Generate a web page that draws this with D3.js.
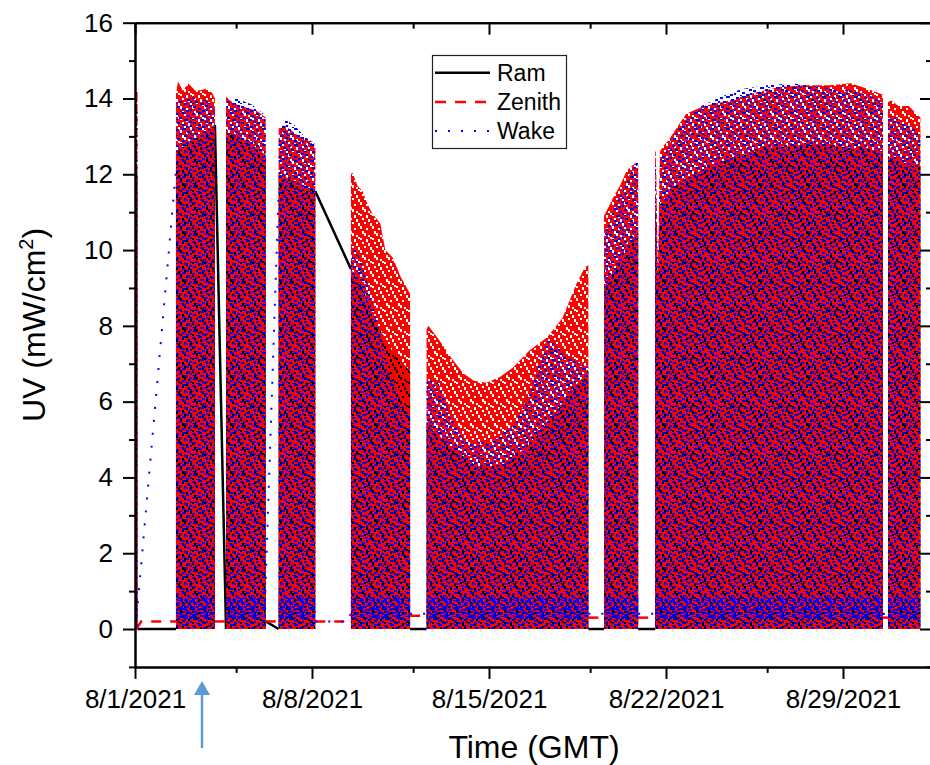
<!DOCTYPE html>
<html>
<head>
<meta charset="utf-8">
<script src="https://cdn.jsdelivr.net/npm/d3@7"></script>
<style>
  body { margin: 0; background: #fff; }
  svg { display: block; font-family: Arial, "Liberation Sans", sans-serif; }
</style>
</head>
<body>
<svg id="chart" width="930" height="765"></svg>
<script>
// days since 8/1/2021 00:00 GMT, values in mW/cm2 (upper envelope of each data block)
const ramTop = [
    [[0.00, 12.0], [0.10, 12.0]],
    [[1.62, 12.6], [2.50, 13.0], [3.16, 13.3]],
    [[3.60, 13.1], [4.40, 12.9], [5.17, 12.5]],
    [[5.68, 12.0], [6.40, 11.8], [7.13, 11.55]],
    [[8.54, 9.5], [9.00, 9.0], [9.60, 8.0], [10.20, 7.3], [10.88, 6.8]],
    [[11.53, 5.4], [12.50, 4.8], [13.50, 4.3], [14.50, 4.3], [15.50, 4.8], [16.50, 5.6], [17.40, 6.4], [17.93, 6.8]],
    [[18.55, 9.0], [19.90, 10.5]],
    [[20.57, 11.0], [20.60, 11.0], [20.68, 9.0], [20.76, 11.2], [21.50, 11.8], [23.00, 12.3], [25.00, 12.7], [27.00, 12.8], [29.58, 12.6]],
    [[29.78, 12.4], [31.06, 12.2]]
];

const zenithTop = [
    [[0.00, 14.2], [0.10, 14.2]],
    [[1.62, 14.1], [1.70, 14.45], [1.90, 14.2], [2.10, 14.4], [2.40, 14.2], [2.80, 14.25], [3.05, 14.15], [3.16, 14.0]],
    [[3.60, 14.05], [3.75, 13.95], [4.00, 13.85], [4.45, 13.75], [4.80, 13.68], [5.17, 13.5]],
    [[5.68, 13.2], [5.90, 13.3], [6.50, 13.0], [7.05, 12.85], [7.13, 12.7]],
    [[8.54, 12.0], [8.60, 12.05], [8.80, 11.7], [9.00, 11.55], [9.20, 11.2], [9.40, 10.95], [9.70, 10.7], [9.90, 10.0], [10.20, 9.8], [10.50, 9.3], [10.88, 8.85]],
    [[11.53, 7.9], [11.60, 8.0], [12.06, 7.6], [12.46, 7.2], [12.98, 6.75], [13.40, 6.55], [13.90, 6.5], [14.43, 6.65], [14.95, 6.9], [15.60, 7.35], [16.30, 7.7], [16.90, 8.2], [17.45, 9.1], [17.80, 9.55], [17.93, 9.6]],
    [[18.55, 10.9], [18.70, 11.1], [18.92, 11.4], [19.18, 11.7], [19.45, 12.1], [19.78, 12.3], [19.90, 12.2]],
    [[20.57, 12.6], [20.60, 12.6], [20.68, 9.3], [20.76, 12.6], [20.90, 12.75], [21.10, 12.9], [21.50, 13.3], [21.80, 13.6], [22.50, 13.8], [23.50, 13.95], [24.50, 14.15], [25.50, 14.3], [26.50, 14.35], [27.50, 14.35], [28.30, 14.4], [29.00, 14.25], [29.58, 14.1]],
    [[29.78, 13.9], [29.90, 13.95], [30.20, 13.8], [30.60, 13.8], [31.06, 13.5]]
];

const wakeTop = [
    [[0.00, 13.8], [0.10, 13.8]],
    [[1.62, 13.9], [2.00, 14.05], [2.60, 14.0], [3.00, 13.9], [3.16, 13.7]],
    [[3.60, 13.95], [4.00, 14.0], [4.60, 13.85], [5.17, 13.55]],
    [[5.68, 13.0], [5.90, 13.45], [6.30, 13.3], [6.70, 13.0], [7.13, 12.8]],
    [[8.54, 9.8], [8.70, 10.1], [9.00, 9.6], [9.40, 8.6], [9.80, 7.5], [10.20, 6.6], [10.50, 6.0], [10.88, 5.6]],
    [[11.53, 6.6], [12.00, 6.5], [12.50, 5.6], [13.00, 5.0], [14.00, 4.9], [15.00, 5.4], [15.60, 6.2], [16.30, 7.7], [16.80, 7.4], [17.30, 7.1], [17.93, 6.9]],
    [[18.55, 10.4], [19.00, 11.2], [19.50, 11.9], [19.90, 12.4]],
    [[20.57, 12.3], [20.60, 12.3], [20.68, 9.3], [20.76, 12.4], [21.00, 12.6], [21.30, 13.0], [21.70, 13.4], [22.40, 13.8], [23.20, 14.05], [24.00, 14.25], [25.00, 14.35], [26.00, 14.4], [27.00, 14.3], [28.00, 14.25], [29.00, 14.1], [29.58, 13.9]],
    [[29.78, 13.6], [30.30, 13.4], [31.06, 13.1]]
];

// eclipse level of the wake sensor (dense band at the bottom of each block)
const wakeBand = [0.25, 0.85];

// lines joining the last point of one block to the first point of the next
const ramGaps = [
    [[0.10, 0], [1.62, 0]],
    [[3.16, 13.3], [3.60, 0]],
    [[5.17, 0.2], [5.68, 0]],
    [[7.13, 11.55], [8.54, 9.5]],
    [[10.88, 0], [11.53, 0]],
    [[17.93, 0], [18.55, 0]],
    [[19.90, 0], [20.57, 0]]
];
const zenithGaps = [
    [[0.05, 0], [0.25, 0.2], [1.62, 0.2]],
    [[3.16, 0.2], [3.60, 0.2]],
    [[5.17, 0.2], [5.68, 0.2]],
    [[7.13, 0.2], [8.40, 0.2], [8.54, 0.4]],
    [[10.88, 0.35], [11.53, 0.35]],
    [[17.93, 0.3], [18.55, 0.3]],
    [[19.90, 0.3], [20.57, 0.3]],
    [[29.58, 0.3], [29.78, 0.3]]
];
const wakeGaps = [
    [[0.02, 0], [1.62, 12.1]],
    [[5.12, 0.3], [5.68, 11.5]],
    [[7.13, 0.2], [8.54, 0.2]],
    [[10.88, 0.4], [11.53, 0.4]],
    [[17.93, 0.4], [18.55, 0.4]],
    [[19.90, 0.4], [20.57, 0.4]],
    [[29.58, 0.4], [29.78, 0.4]]
];

const xMajorTicks = ['2021-08-01', '2021-08-08', '2021-08-15', '2021-08-22', '2021-08-29'];
const xMinorTicks = ['2021-08-05', '2021-08-12', '2021-08-19', '2021-08-26'];
const yMajorTicks = [0, 2, 4, 6, 8, 10, 12, 14, 16];
const yMinorTicks = [-1, 1, 3, 5, 7, 9, 11, 13, 15];
const seriesNames = ['Ram', 'Zenith', 'Wake'];

const startMs = Date.UTC(2021, 7, 1);
const toDate = d => new Date(startMs + d * 864e5);

const svg = d3.select('#chart');

const x = d3.scaleUtc()
    .domain([toDate(0), toDate(31.52)])
    .range([135, 932]);

const y = d3.scaleLinear()
    .domain([-1, 16])
    .range([666.9, 22.7]);

// textures standing in for the densely packed orbit traces
const defs = svg.append('defs');

function addPattern(id, w, h, color, rects) {
    let p = defs.append('pattern')
        .attr('id', id)
        .attr('patternUnits', 'userSpaceOnUse')
        .attr('width', w)
        .attr('height', h);
    rects.forEach(([rx, ry, rw, rh]) => {
        // draw twice so dashes wrap over the tile edge
        [ry, ry - h].forEach(yy => {
            p.append('rect').attr('x', rx).attr('y', yy)
                .attr('width', rw).attr('height', rh).attr('fill', color);
        });
    });
}

// red: short vertical dashes, ragged offsets
addPattern('zenithFill', 12, 24, '#ff0000', [
    [0, 0, 2, 10], [0, 13, 2, 9],
    [2, 4, 2, 11], [2, 18, 2, 8],
    [4, 8, 2, 9], [4, 20, 2, 10],
    [6, 2, 2, 10], [6, 14, 2, 9],
    [8, 6, 2, 13], [8, 21, 2, 6],
    [10, 10, 2, 11], [10, 23, 2, 8]
]);

// blue: short horizontal dots scattered
addPattern('wakeFill', 16, 16, '#0000ff', [
    [0, 1, 3, 2], [6, 0, 4, 2], [11, 3, 3, 2], [3, 5, 3, 2], [8, 7, 4, 2],
    [13, 9, 3, 2], [1, 10, 3, 2], [6, 12, 3, 2], [10, 14, 3, 2], [14, 13, 2, 2],
    [4, 15, 2, 1], [14, 5, 2, 2], [0, 7, 2, 1]
]);

// blue, denser: eclipse plateau
addPattern('wakeBandFill', 12, 8, '#0000ff', [
    [0, 0, 3, 2], [5, 1, 3, 2], [9, 0, 3, 1], [2, 3, 3, 2], [8, 4, 3, 2],
    [0, 6, 3, 2], [5, 6, 2, 1]
]);

const area = d3.area()
    .x(d => x(toDate(d[0])))
    .y0(y(0))
    .y1(d => y(d[1]));

const line = d3.line()
    .x(d => x(toDate(d[0])))
    .y(d => y(d[1]));

const data = svg.append('g').attr('class', 'data');

// Ram
data.append('g').selectAll('path')
    .data(ramTop)
    .enter()
    .append('path')
    .attr('d', area)
    .attr('fill', '#000');

data.append('g').selectAll('path')
    .data(ramGaps)
    .enter()
    .append('path')
    .attr('d', line)
    .attr('fill', 'none')
    .attr('stroke', '#000')
    .attr('stroke-width', 2.5);

// Zenith
data.append('g').selectAll('path')
    .data(zenithTop)
    .enter()
    .append('path')
    .attr('d', area)
    .attr('fill', 'url(#zenithFill)');

data.append('g').selectAll('path')
    .data(zenithGaps)
    .enter()
    .append('path')
    .attr('d', line)
    .attr('fill', 'none')
    .attr('stroke', '#ff0000')
    .attr('stroke-width', 2.5)
    .attr('stroke-dasharray', '10,9');

// Wake
data.append('g').selectAll('path')
    .data(wakeTop)
    .enter()
    .append('path')
    .attr('d', area)
    .attr('fill', 'url(#wakeFill)');

data.append('g').selectAll('rect')
    .data(wakeTop)
    .enter()
    .append('rect')
    .attr('x', d => x(toDate(d[0][0])))
    .attr('width', d => x(toDate(d[d.length - 1][0])) - x(toDate(d[0][0])))
    .attr('y', y(wakeBand[1]))
    .attr('height', y(wakeBand[0]) - y(wakeBand[1]))
    .attr('fill', 'url(#wakeBandFill)');

data.append('g').selectAll('path')
    .data(wakeGaps)
    .enter()
    .append('path')
    .attr('d', line)
    .attr('fill', 'none')
    .attr('stroke', '#0000ff')
    .attr('stroke-width', 2)
    .attr('stroke-dasharray', '2,11');

// axes
const fmt = d3.utcFormat('%-m/%-d/%Y');
const majorDates = xMajorTicks.map(s => new Date(s + 'T00:00:00Z'));
const minorDates = xMinorTicks.map(s => new Date(s + 'T00:00:00Z'));

function styleAxis(g) {
    g.selectAll('.domain').attr('stroke', '#000').attr('stroke-width', 2);
    g.selectAll('.tick line').attr('stroke', '#000').attr('stroke-width', 2);
    g.selectAll('.tick text').attr('fill', '#000').style('font-size', '26px')
        .style('font-family', 'Arial, "Liberation Sans", sans-serif');
}

let axes = svg.append('g').attr('class', 'axes');

axes.append('g')
    .attr('transform', `translate(0,${y(-1)})`)
    .call(d3.axisBottom(x).tickValues(majorDates).tickFormat(fmt).tickSize(12).tickSizeOuter(0).tickPadding(11))
    .call(styleAxis);
axes.append('g')
    .attr('transform', `translate(0,${y(-1)})`)
    .call(d3.axisBottom(x).tickValues(minorDates).tickFormat('').tickSize(6).tickSizeOuter(0))
    .call(styleAxis);

axes.append('g')
    .attr('transform', `translate(0,${y(16)})`)
    .call(d3.axisTop(x).tickValues(majorDates).tickFormat('').tickSize(-12).tickSizeOuter(0))
    .call(styleAxis);
axes.append('g')
    .attr('transform', `translate(0,${y(16)})`)
    .call(d3.axisTop(x).tickValues(minorDates).tickFormat('').tickSize(-6).tickSizeOuter(0))
    .call(styleAxis);

axes.append('g')
    .attr('transform', `translate(${x.range()[0]},0)`)
    .call(d3.axisLeft(y).tickValues(yMajorTicks).tickSize(12).tickSizeOuter(0).tickPadding(10))
    .call(styleAxis);
axes.append('g')
    .attr('transform', `translate(${x.range()[0]},0)`)
    .call(d3.axisLeft(y).tickValues(yMinorTicks).tickFormat('').tickSize(6).tickSizeOuter(0))
    .call(styleAxis);

axes.append('g')
    .attr('transform', `translate(${x.range()[1]},0)`)
    .call(d3.axisRight(y).tickValues(yMajorTicks).tickFormat('').tickSize(-12).tickSizeOuter(0))
    .call(styleAxis);
axes.append('g')
    .attr('transform', `translate(${x.range()[1]},0)`)
    .call(d3.axisRight(y).tickValues(yMinorTicks).tickFormat('').tickSize(-6).tickSizeOuter(0))
    .call(styleAxis);

// axis titles
svg.append('text')
    .attr('x', 534)
    .attr('y', 758)
    .attr('text-anchor', 'middle')
    .style('font-size', '32px')
    .text('Time (GMT)');

let yTitle = svg.append('text')
    .attr('transform', 'translate(45,325) rotate(-90)')
    .attr('text-anchor', 'middle')
    .style('font-size', '32px');
yTitle.append('tspan').text('UV (mW/cm');
yTitle.append('tspan').attr('dy', -12).style('font-size', '20px').text('2');
yTitle.append('tspan').attr('dy', 12).text(')');

// legend
let legend = svg.append('g').attr('class', 'legend');

legend.append('rect')
    .attr('x', 432.5)
    .attr('y', 55.5)
    .attr('width', 134)
    .attr('height', 93)
    .attr('fill', '#fff')
    .attr('stroke', '#222')
    .attr('stroke-width', 1.2);

const legendStyles = [
    { color: '#000', width: 2.5, dash: null },
    { color: '#ff0000', width: 2.5, dash: '11,9' },
    { color: '#0000ff', width: 2, dash: '2,11' }
];

seriesNames.forEach((name, i) => {
    let ly = 72.7 + i * 29.2;
    let s = legendStyles[i];
    legend.append('line')
        .attr('x1', 435).attr('x2', 490)
        .attr('y1', ly).attr('y2', ly)
        .attr('stroke', s.color)
        .attr('stroke-width', s.width)
        .attr('stroke-dasharray', s.dash);
    legend.append('text')
        .attr('x', 497)
        .attr('y', ly + 8)
        .style('font-size', '23px')
        .text(name);
});

// marker arrow under the x axis
let arrow = svg.append('g').attr('fill', '#5b9bd5').attr('stroke', '#5b9bd5');
arrow.append('line')
    .attr('x1', 202).attr('x2', 202)
    .attr('y1', 748).attr('y2', 692)
    .attr('stroke-width', 2.5);
arrow.append('path')
    .attr('d', 'M194,695 L202,681 L210,695 Z')
    .attr('stroke', 'none');
</script>
</body>
</html>
